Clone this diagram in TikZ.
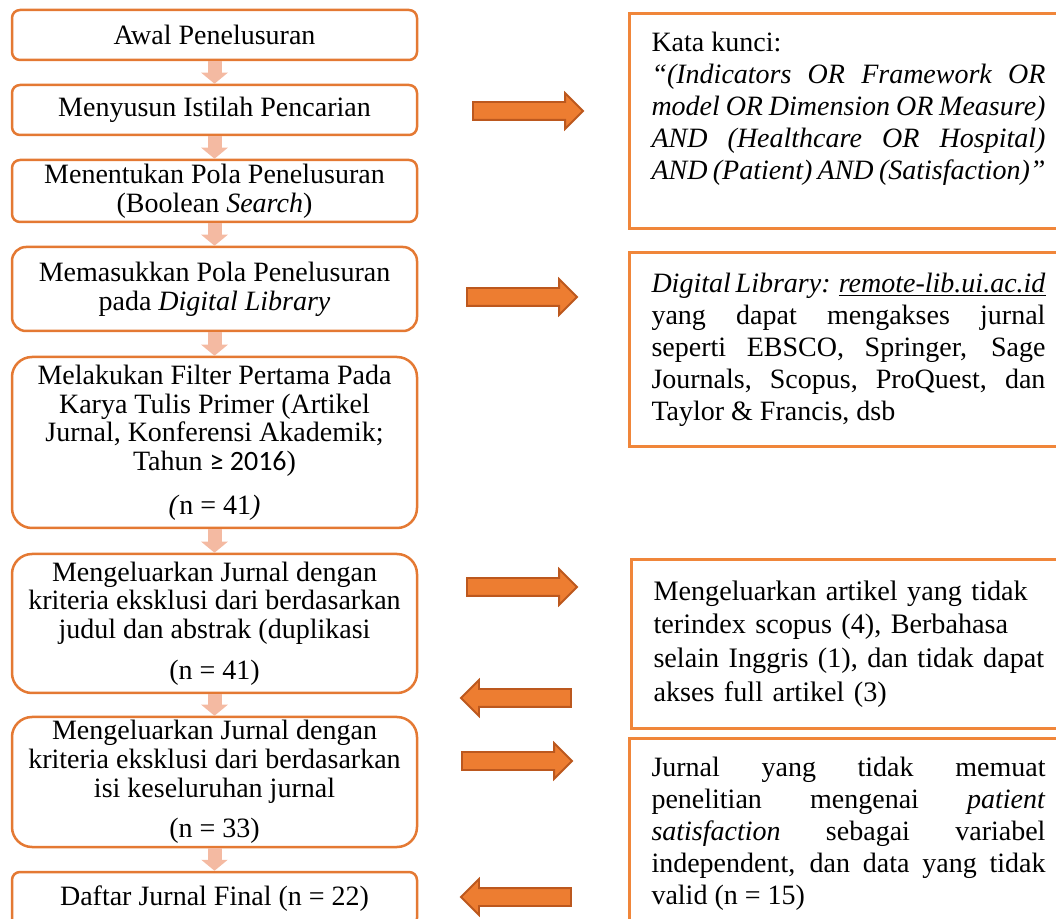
\documentclass[tikz,border=0pt]{standalone}
\usepackage{fontspec}
\setmainfont{Liberation Serif}
\newfontfamily\calibri{Carlito}
\usetikzlibrary{arrows.meta,shapes.arrows}

\definecolor{boxline}{RGB}{228,121,51}
\definecolor{noteline}{RGB}{240,134,58}
\definecolor{arrfill}{RGB}{237,125,49}
\definecolor{arrline}{RGB}{188,88,30}
\definecolor{downfill}{RGB}{244,186,162}

\tikzset{
  langkah/.style={draw=boxline, line width=1.25pt, rounded corners=4pt,
    minimum width=202.5pt, align=center, inner sep=0pt,
    font=\fontsize{14}{14.35}\selectfont},
  catatan/.style={draw=noteline, line width=1.5pt, anchor=north west,
    text width=197pt, inner xsep=11pt, inner ysep=0pt, align=justify,
    font=\fontsize{14}{16}\selectfont},
  turun/.style={downfill, line width=7pt, -{Triangle[length=5.5pt,width=13pt]}},
  panah/.style={single arrow, draw=arrline, fill=arrfill, line width=0.9pt,
    minimum height=55pt, single arrow head extend=4.5pt,
    inner xsep=0pt, inner ysep=4pt, outer sep=0pt, anchor=tail}
}

\begin{document}
\begin{tikzpicture}[x=0.5pt,y=-0.5pt]
  \useasboundingbox (0,0) rectangle (1056,919);

  \node[langkah, minimum height=25pt] (awal) at (214.5,35) {Awal Penelusuran};
  \node[langkah, minimum height=25pt] (istilah) at (214.5,110) {Menyusun Istilah Pencarian};
  \node[langkah, minimum height=31pt] (pola) at (214.5,191)
    {Menentukan Pola Penelusuran\\(Boolean \textit{Search})};
  \node[langkah, minimum height=42pt, rounded corners=7pt] (masuk) at (214.5,289)
    {Memasukkan Pola Penelusuran\\pada \textit{Digital Library}};
  \node[langkah, minimum height=85.5pt, rounded corners=10pt] (filter) at (214.5,442.5)
    {Melakukan Filter Pertama Pada\\Karya Tulis Primer (Artikel\\Jurnal, Konferensi Akademik;\\Tahun {\calibri ≥ 2016})\\[7.5pt]\textit{(}n = 41\textit{)}};
  \node[langkah, minimum height=69.5pt, rounded corners=10pt] (keluar1) at (214.5,623.5)
    {Mengeluarkan Jurnal dengan\\kriteria eksklusi dari berdasarkan\\judul dan abstrak (duplikasi\\[6pt](n = 41)};
  \node[langkah, minimum height=65pt, rounded corners=10pt] (keluar2) at (214.5,782)
    {Mengeluarkan Jurnal dengan\\kriteria eksklusi dari berdasarkan\\isi keseluruhan jurnal\\[6pt](n = 33)};
  \node[langkah, minimum height=27pt] (final) at (214.5,899) {Daftar Jurnal Final (n = 22)};

  \foreach \a/\b in {awal/istilah,istilah/pola,pola/masuk,masuk/filter,
                     filter/keluar1,keluar1/keluar2,keluar2/final}
    \draw[turun] (\a.south) -- (\b.north);

  \node[catatan, minimum height=107.5pt] (kunci) at (628,12)
    {Kata kunci:\newline\textit{“(Indicators OR Framework OR\linebreak model OR Dimension OR Measure)\linebreak AND (Healthcare OR Hospital)\linebreak AND (Patient) AND (Satisfaction)”}\rule[-15pt]{0pt}{1pt}};
  \node[catatan, minimum height=97pt] (digilib) at (628,251)
    {\textit{Digital Library:} \underline{\textit{remote-lib.ui.ac.id}}\linebreak yang dapat mengakses jurnal\linebreak seperti EBSCO, Springer, Sage\linebreak Journals, Scopus, ProQuest, dan\linebreak Taylor \& Francis, dsb};
  \node[catatan, minimum height=84.5pt, text width=205pt, align=left,
        font=\fontsize{14.1}{16.9}\selectfont] (eksk1) at (630,558)
    {Mengeluarkan artikel yang tidak\\terindex scopus (4), Berbahasa\\selain Inggris (1), dan tidak dapat\\akses full artikel (3)};
  \node[catatan, minimum height=95.5pt] (eksk2) at (628,737)
    {Jurnal yang tidak memuat\linebreak penelitian mengenai \textit{patient}\linebreak \textit{satisfaction} sebagai variabel\linebreak independent, dan data yang tidak\linebreak valid (n = 15)};

  \node[panah] (ar1) at (473,111) {};
  \node[panah] (ar2) at (467,297) {};
  \node[panah] (ar3) at (467,587) {};
  \node[panah, shape border rotate=180] (ar4) at (571,698) {};
  \node[panah] (ar5) at (462,761) {};
  \node[panah, shape border rotate=180] (ar6) at (571,897) {};
\end{tikzpicture}
\end{document}
